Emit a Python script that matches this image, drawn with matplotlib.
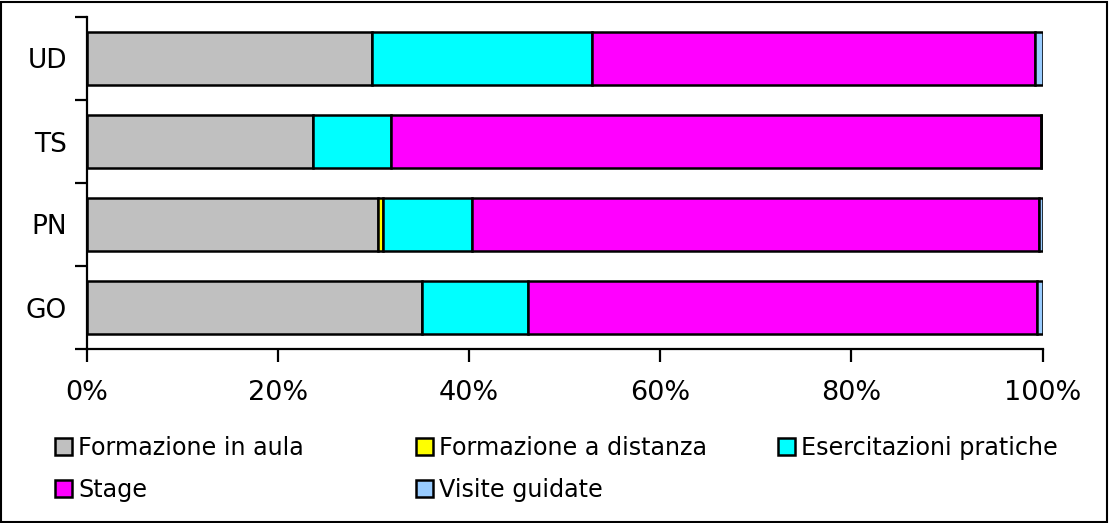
import matplotlib
matplotlib.use("Agg")
import matplotlib.pyplot as plt
from matplotlib.patches import Rectangle
import numpy as np

categories = ["GO", "PN", "TS", "UD"]
series_names = ["Formazione in aula", "Formazione a distanza", "Esercitazioni pratiche",
                "Stage", "Visite guidate"]
aula = [35.1, 30.5, 23.7, 29.9]
distanza = [0.0, 0.55, 0.0, 0.0]
esercitazioni = [11.05, 9.3, 8.2, 22.95]
stage = [53.25, 59.3, 67.9, 46.4]
visite = [0.6, 0.35, 0.2, 0.75]
colors = ["#C0C0C0", "#FFFF00", "#00FFFF", "#FF00FF", "#99CCFF"]
xtick_vals = [0, 20, 40, 60, 80, 100]
xtick_labels = ["0%", "20%", "40%", "60%", "80%", "100%"]

W, H = 1109, 523
fig = plt.figure(figsize=(W / 100, H / 100), dpi=100)
ax = fig.add_axes([86.5 / W, 1 - 349 / H, (1042.5 - 86.5) / W, (349 - 17) / H])

y = np.arange(len(categories))
left = np.zeros(len(categories))
handles = []
for name, vals, c in zip(series_names, [aula, distanza, esercitazioni, stage, visite], colors):
    vals = np.array(vals)
    h = ax.barh(y, vals, left=left, height=0.63, color=c, edgecolor="black",
                linewidth=1.8, label=name)
    handles.append(h)
    left = left + vals

ax.set_xlim(0, 100)
ax.set_ylim(-0.5, len(categories) - 0.5)
ax.set_xticks(xtick_vals)
ax.set_xticklabels(xtick_labels)
ax.set_yticks(np.arange(-0.5, len(categories), 1.0))
ax.set_yticklabels([])
ax.set_yticks(y, minor=True)
ax.set_yticklabels(categories, minor=True)
ax.tick_params(axis="y", which="major", direction="out", length=9, width=1.6)
ax.tick_params(axis="y", which="minor", length=0, pad=14, labelsize=19)
ax.tick_params(axis="x", direction="out", length=9, width=1.6, pad=13, labelsize=19.5)
for s in ["top", "right"]:
    ax.spines[s].set_visible(False)
for s in ["left", "bottom"]:
    ax.spines[s].set_linewidth(1.6)

# Legend laid out in equal-width columns, row-major order
columns = [[0, 3], [1, 4], [2]]
col_x = [55, 416, 778]
for idxs, cx in zip(columns, col_x):
    fig.legend([handles[i] for i in idxs], [series_names[i] for i in idxs],
               loc="upper left", bbox_to_anchor=(cx / W, 1 - 436 / H), ncol=1,
               frameon=False, fontsize=17.2, handlelength=0.7, handleheight=0.7,
               handletextpad=0.28, labelspacing=0.76, borderaxespad=0, borderpad=0)

fig.patches.append(Rectangle((1 / W, 1 / H), 1 - 3 / W, 1 - 3 / H, transform=fig.transFigure,
                             fill=False, edgecolor="black", linewidth=1.5))
fig.savefig("out.png", dpi=100)
